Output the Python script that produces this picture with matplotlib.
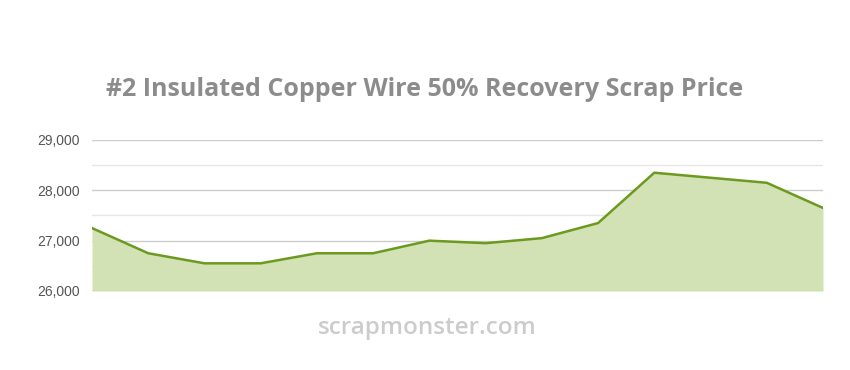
import numpy as np
import matplotlib
matplotlib.use('Agg')
import matplotlib.pyplot as plt
from matplotlib.ticker import MultipleLocator, FuncFormatter

# price points (USD/ton)
prices = [27250, 26750, 26550, 26550, 26750, 26750, 27000,
          26950, 27050, 27350, 28350, 28250, 28150, 27650]
y_ticks = [26000, 27000, 28000, 29000]

x = np.arange(len(prices))

fig = plt.figure(figsize=(8.5, 3.7), dpi=100)
ax = fig.add_axes([92/850, 1 - 291/370, (823-92)/850, (291-140)/370])

ax.fill_between(x, prices, 26000, color='#d3e2b5', lw=0, zorder=2)
ax.plot(x, prices, color='#6b9a1e', lw=1.8, zorder=3)

ax.set_xlim(0, len(prices) - 1)
ax.set_ylim(26000, 29000)
ax.set_yticks(y_ticks)
ax.yaxis.set_minor_locator(MultipleLocator(500))
ax.yaxis.set_major_formatter(FuncFormatter(lambda v, p: f'{int(v):,}'))
ax.set_xticks([])

ax.grid(axis='y', which='major', color='#cccccc', lw=1, zorder=1)
ax.grid(axis='y', which='minor', color='#e6e6e6', lw=1, zorder=1)
for s in ax.spines.values():
    s.set_visible(False)
ax.tick_params(axis='y', which='both', length=0, pad=9,
               labelsize=10, labelcolor='#555555')
for lab in ax.get_yticklabels():
    lab.set_fontfamily('Liberation Sans')
ax.axhline(26000, color='#b8cc94', lw=1, zorder=4)

fig.text(425/850, 1 - 89/370, '#2 Insulated Copper Wire 50% Recovery Scrap Price',
         ha='center', va='center', fontsize=18, fontweight='bold',
         color='#8c8c8c', family='Open Sans')
fig.text(427/850, 1 - 328/370, 'scrapmonster.com', ha='center', va='center',
         fontsize=17.5, fontweight='semibold', color='#cccccc', family='Open Sans')

fig.savefig('out.png', dpi=100)
